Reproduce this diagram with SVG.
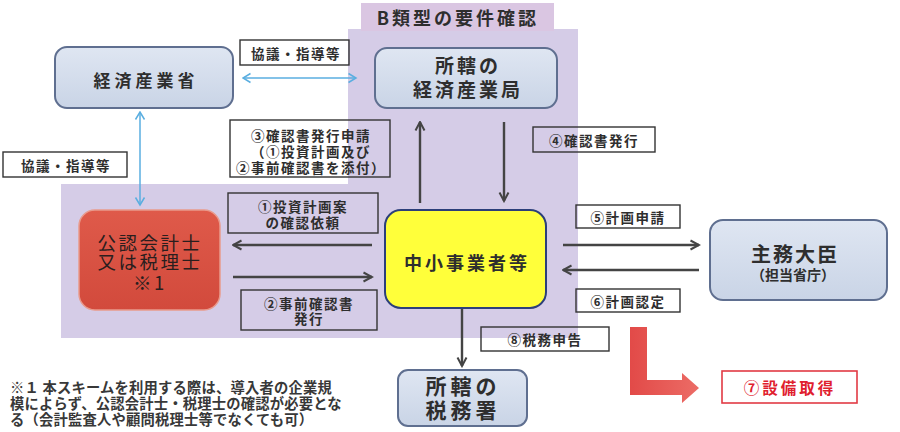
<svg xmlns="http://www.w3.org/2000/svg" width="900" height="432" viewBox="0 0 900 432">
<defs>
<linearGradient id="gBlue" x1="0" y1="0" x2="0" y2="1"><stop offset="0" stop-color="#dfe6f2"/><stop offset="1" stop-color="#c9d4e6"/></linearGradient>
<linearGradient id="gRed" x1="0" y1="0" x2="0" y2="1"><stop offset="0" stop-color="#df5a4a"/><stop offset="1" stop-color="#d24a3c"/></linearGradient>
<linearGradient id="gArrow" x1="0" y1="0" x2="1" y2="0"><stop offset="0" stop-color="#e24a48"/><stop offset="1" stop-color="#ec6c66"/></linearGradient>
<marker id="ah" viewBox="0 0 12 12" refX="10.5" refY="6" markerWidth="12" markerHeight="12" markerUnits="userSpaceOnUse" orient="auto-start-reverse"><path d="M2,1.5 L10.5,6 L2,10.5" fill="none" stroke="#444" stroke-width="2"/></marker>
<marker id="ahb" viewBox="0 0 12 12" refX="10.5" refY="6" markerWidth="12" markerHeight="12" markerUnits="userSpaceOnUse" orient="auto-start-reverse"><path d="M3,1.5 L10.5,6 L3,10.5" fill="none" stroke="#5aaee0" stroke-width="1.5"/></marker>
<style>
text{font-family:"Noto Sans CJK JP","Noto Sans CJK SC",sans-serif;font-weight:bold;fill:#2e2e2e;text-anchor:middle;dominant-baseline:central}
.lbl{font-size:13.5px;letter-spacing:1.5px}
.box{fill:none;stroke:#333;stroke-width:1.4}
.node{stroke-width:2}
.dk{stroke:#444;stroke-width:2.4;fill:none;marker-end:url(#ah)}
.bl{stroke:#5aaee0;stroke-width:1.5;fill:none;marker-end:url(#ahb);marker-start:url(#ahb)}
.note{font-size:14.3px;text-anchor:start;font-weight:bold;fill:#383838;letter-spacing:0.2px}
</style>
</defs>
<rect width="900" height="432" fill="#ffffff"/>
<g id="region-b">
<path d="M348,29 H578 V338 H61 V184 H348 Z" fill="#d5cce7"/>
<rect x="361" y="3" width="193" height="28" fill="#dac6e2"/>
<text x="458" y="17" style="font-size:18px;letter-spacing:3px">B類型の要件確認</text>
</g>
<g id="connectors">
<line class="bl" x1="243" y1="78" x2="356" y2="78"/>
<line class="bl" x1="140" y1="112" x2="140" y2="205"/>
<line class="dk" x1="420" y1="203" x2="420" y2="122"/>
<line class="dk" x1="504" y1="122" x2="504" y2="201"/>
<line class="dk" x1="372" y1="245" x2="233" y2="245"/>
<line class="dk" x1="233" y1="277" x2="372" y2="277"/>
<line class="dk" x1="563" y1="245" x2="699" y2="245"/>
<line class="dk" x1="699" y1="270" x2="563" y2="270"/>
<line class="dk" x1="462" y1="309" x2="462" y2="366"/>
<polygon points="630,327 647,327 647,380 682,380 682,373 699,388 682,403 682,395 630,395" fill="url(#gArrow)"/>
</g>
<g id="labels">
<g id="lbl-kyogi1"><rect class="box" x="240" y="40" width="109" height="25"/><text class="lbl" x="296" y="53">協議・指導等</text></g>
<g id="lbl-kyogi2"><rect class="box" x="3" y="152" width="124" height="25"/><text class="lbl" x="66" y="165">協議・指導等</text></g>
<g id="lbl-3"><rect class="box" x="230" y="120" width="160" height="57"/><text class="lbl" x="311" y="135"><tspan x="311" y="135">③確認書発行申請</tspan><tspan x="311" y="151">（①投資計画及び</tspan><tspan x="311" y="167">②事前確認書を添付）</tspan></text></g>
<g id="lbl-4"><rect class="box" x="533" y="127" width="122" height="25"/><text class="lbl" x="594" y="140">④確認書発行</text></g>
<g id="lbl-1"><rect class="box" x="228" y="193" width="150" height="40"/><text class="lbl"><tspan x="303" y="206">①投資計画案</tspan><tspan x="303" y="222">の確認依頼</tspan></text></g>
<g id="lbl-2"><rect class="box" x="241" y="290" width="136" height="40"/><text class="lbl"><tspan x="309" y="303">②事前確認書</tspan><tspan x="309" y="318">発行</tspan></text></g>
<g id="lbl-5"><rect class="box" x="576" y="205" width="104" height="23"/><text class="lbl" x="628" y="217">⑤計画申請</text></g>
<g id="lbl-6"><rect class="box" x="576" y="289" width="104" height="23"/><text class="lbl" x="628" y="301">⑥計画認定</text></g>
<g id="lbl-8"><rect class="box" x="481" y="327" width="128" height="24"/><text class="lbl" x="545" y="339">⑧税務申告</text></g>
<g id="lbl-7"><rect x="722" y="371" width="135" height="32" fill="none" stroke="#e23a44" stroke-width="1.6"/><text x="790" y="387" style="font-size:15.5px;letter-spacing:3px;fill:#e0202e">⑦設備取得</text></g>
</g>
<g id="node-meti">
<rect class="node" x="55" y="47" width="178" height="61" rx="12" fill="url(#gBlue)" stroke="#5f6f90"/>
<text x="146" y="79" style="font-size:17px;letter-spacing:4px">経済産業省</text>
</g>
<g id="node-bureau">
<rect class="node" x="375" y="48" width="182" height="60" rx="12" fill="url(#gBlue)" stroke="#5f6f90"/>
<text style="font-size:19px;letter-spacing:3px"><tspan x="468" y="64">所轄の</tspan><tspan x="468" y="88">経済産業局</tspan></text>
</g>
<g id="node-accountant">
<rect x="79" y="210" width="141" height="100" rx="16" fill="url(#gRed)" stroke="#e99a8c" stroke-width="1.5"/>
<text style="font-size:18.5px;letter-spacing:2.5px;font-weight:normal;fill:#2a1e1e"><tspan x="150" y="242">公認会計士</tspan><tspan x="150" y="261">又は税理士</tspan><tspan x="150" y="282">※1</tspan></text>
</g>
<g id="node-sme">
<rect class="node" x="385" y="210" width="161" height="98" rx="16" fill="#ffff3a" stroke="#2c3f7a"/>
<text x="467" y="262" style="font-size:18px;letter-spacing:3px">中小事業者等</text>
</g>
<g id="node-minister">
<rect class="node" x="710" y="220" width="177" height="80" rx="13" fill="url(#gBlue)" stroke="#5f6f90"/>
<text><tspan x="795" y="253" style="font-size:20px;letter-spacing:2px">主務大臣</tspan><tspan x="793" y="274" style="font-size:14px">（担当省庁）</tspan></text>
</g>
<g id="node-tax">
<rect class="node" x="398" y="370" width="129" height="56" rx="10" fill="url(#gBlue)" stroke="#5f6f90"/>
<text style="font-size:21px;letter-spacing:4px"><tspan x="463" y="385">所轄の</tspan><tspan x="463" y="409">税務署</tspan></text>
</g>
<g id="note">
<text class="note"><tspan x="10" y="386">※１ 本スキームを利用する際は、導入者の企業規</tspan><tspan x="10" y="402">模によらず、公認会計士・税理士の確認が必要とな</tspan><tspan x="10" y="418">る（会計監査人や顧問税理士等でなくても可）</tspan></text>
</g>
</svg>
